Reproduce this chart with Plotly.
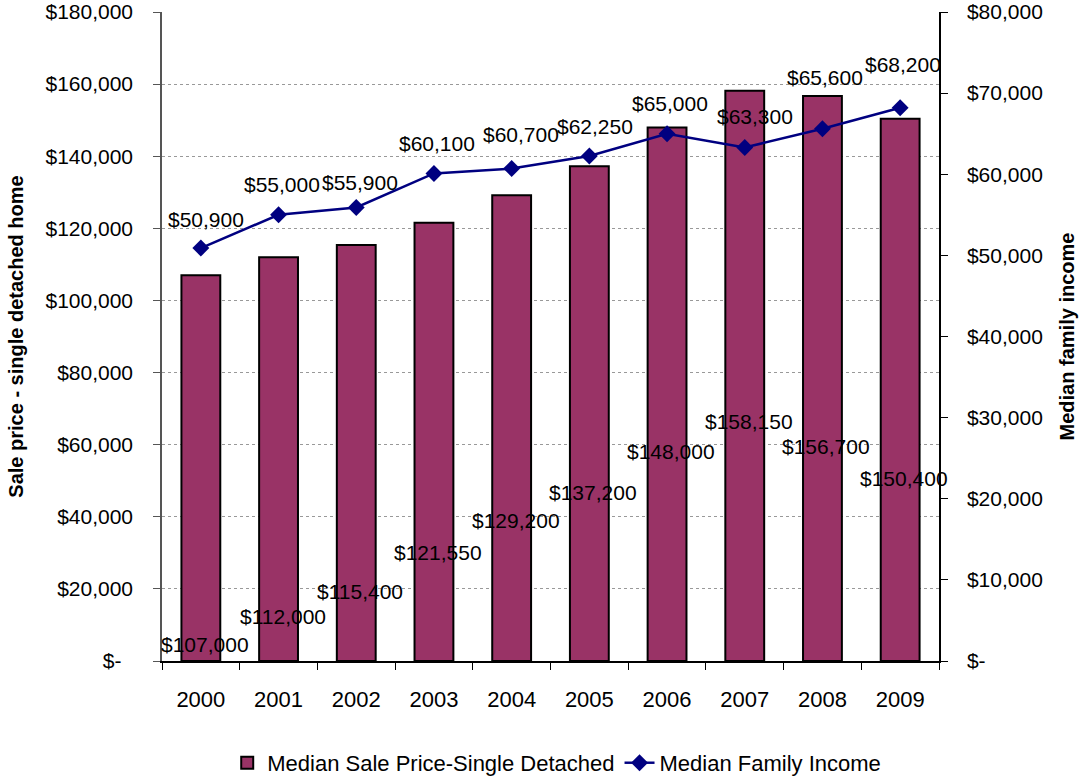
import plotly.graph_objects as go

years = ["2000", "2001", "2002", "2003", "2004", "2005", "2006", "2007", "2008", "2009"]
sale_price = [107000, 112000, 115400, 121550, 129200, 137200, 148000, 158150, 156700, 150400]
family_income = [50900, 55000, 55900, 60100, 60700, 62250, 65000, 63300, 65600, 68200]

left_ticks = [0, 20000, 40000, 60000, 80000, 100000, 120000, 140000, 160000, 180000]
right_ticks = [0, 10000, 20000, 30000, 40000, 50000, 60000, 70000, 80000]

# label placement (layout only): bar labels' vertical anchor on left axis, line label pixel lift
bar_label_y = [4440, 12480, 19410, 30230, 39100, 46870, 57970, 66560, 59630, 50480]
line_label_lift = [29, 30, 25, 30, 34, 30, 30, 31, 51, 43]
line_label_xshift = [5, 3, 4, 3, 9, 6, 3, 10, 3, 3]

FONT = "Liberation Sans, Arial, sans-serif"
BAR = "#993366"
LINE = "#000080"


def money(v, zero="$-"):
    return zero if v == 0 else "${:,.0f}".format(v)


fig = go.Figure()
fig.add_trace(go.Bar(
    x=years, y=sale_price, name="Median Sale Price-Single Detached",
    marker=dict(color=BAR, line=dict(color="black", width=2)),
    width=0.5, yaxis="y",
))
fig.add_trace(go.Scatter(
    x=years, y=family_income, name="Median Family Income",
    mode="lines+markers", yaxis="y2",
    line=dict(color=LINE, width=2.5),
    marker=dict(symbol="diamond", size=13, color=LINE),
))

annotations = []
for i, v in enumerate(sale_price):
    annotations.append(dict(
        x=i, y=bar_label_y[i], xref="x", yref="y", text=money(v),
        showarrow=False, xshift=4, font=dict(family=FONT, size=21, color="black"),
    ))
for i, v in enumerate(family_income):
    annotations.append(dict(
        x=i, y=v, xref="x", yref="y2", text=money(v),
        showarrow=False, yshift=line_label_lift[i], xshift=line_label_xshift[i],
        font=dict(family=FONT, size=21, color="black"),
    ))

fig.update_layout(
    width=1081, height=780, autosize=False,
    margin=dict(l=162, r=142, t=12, b=119, autoexpand=False),
    paper_bgcolor="white", plot_bgcolor="white",
    font=dict(family=FONT, size=21, color="black"),
    showlegend=True,
    legend=dict(orientation="h", x=0.508, xanchor="center", y=-0.157, yanchor="middle",
                font=dict(size=22), traceorder="normal"),
    annotations=annotations,
    xaxis=dict(
        type="category", range=[-0.5, 9.5], tickson="boundaries",
        ticks="outside", ticklen=7, tickcolor="black",
        showline=True, linecolor="black", linewidth=1.5,
        tickfont=dict(size=22), ticklabelstandoff=18, automargin=False,
        showgrid=False,
    ),
    yaxis=dict(
        range=[0, 180000], tickmode="array", tickvals=left_ticks,
        ticktext=[money(v, "$-\u00a0\u00a0") for v in left_ticks],
        ticks="outside", ticklen=7, tickcolor="#555555",
        showline=True, linecolor="#555555", linewidth=1.5,
        showgrid=True, gridcolor="#999999", griddash="dot", gridwidth=1,
        zeroline=False, tickfont=dict(size=21), ticklabelstandoff=16, automargin=False,
        title=dict(text="<b>Sale price - single detached home</b>", font=dict(size=20), standoff=16),
    ),
    yaxis2=dict(
        range=[0, 80000], tickmode="array", tickvals=right_ticks,
        ticktext=[money(v) for v in right_ticks],
        overlaying="y", side="right",
        ticks="outside", ticklen=7, tickcolor="black",
        showline=True, linecolor="black", linewidth=1.5,
        showgrid=False, zeroline=False, tickfont=dict(size=21), ticklabelstandoff=15,
        automargin=False,
        title=dict(text="<b>Median family income</b>", font=dict(size=20), standoff=18),
    ),
)

fig.write_html("out.html", config={"displayModeBar": False},
               post_script="document.body.style.margin='0';")
